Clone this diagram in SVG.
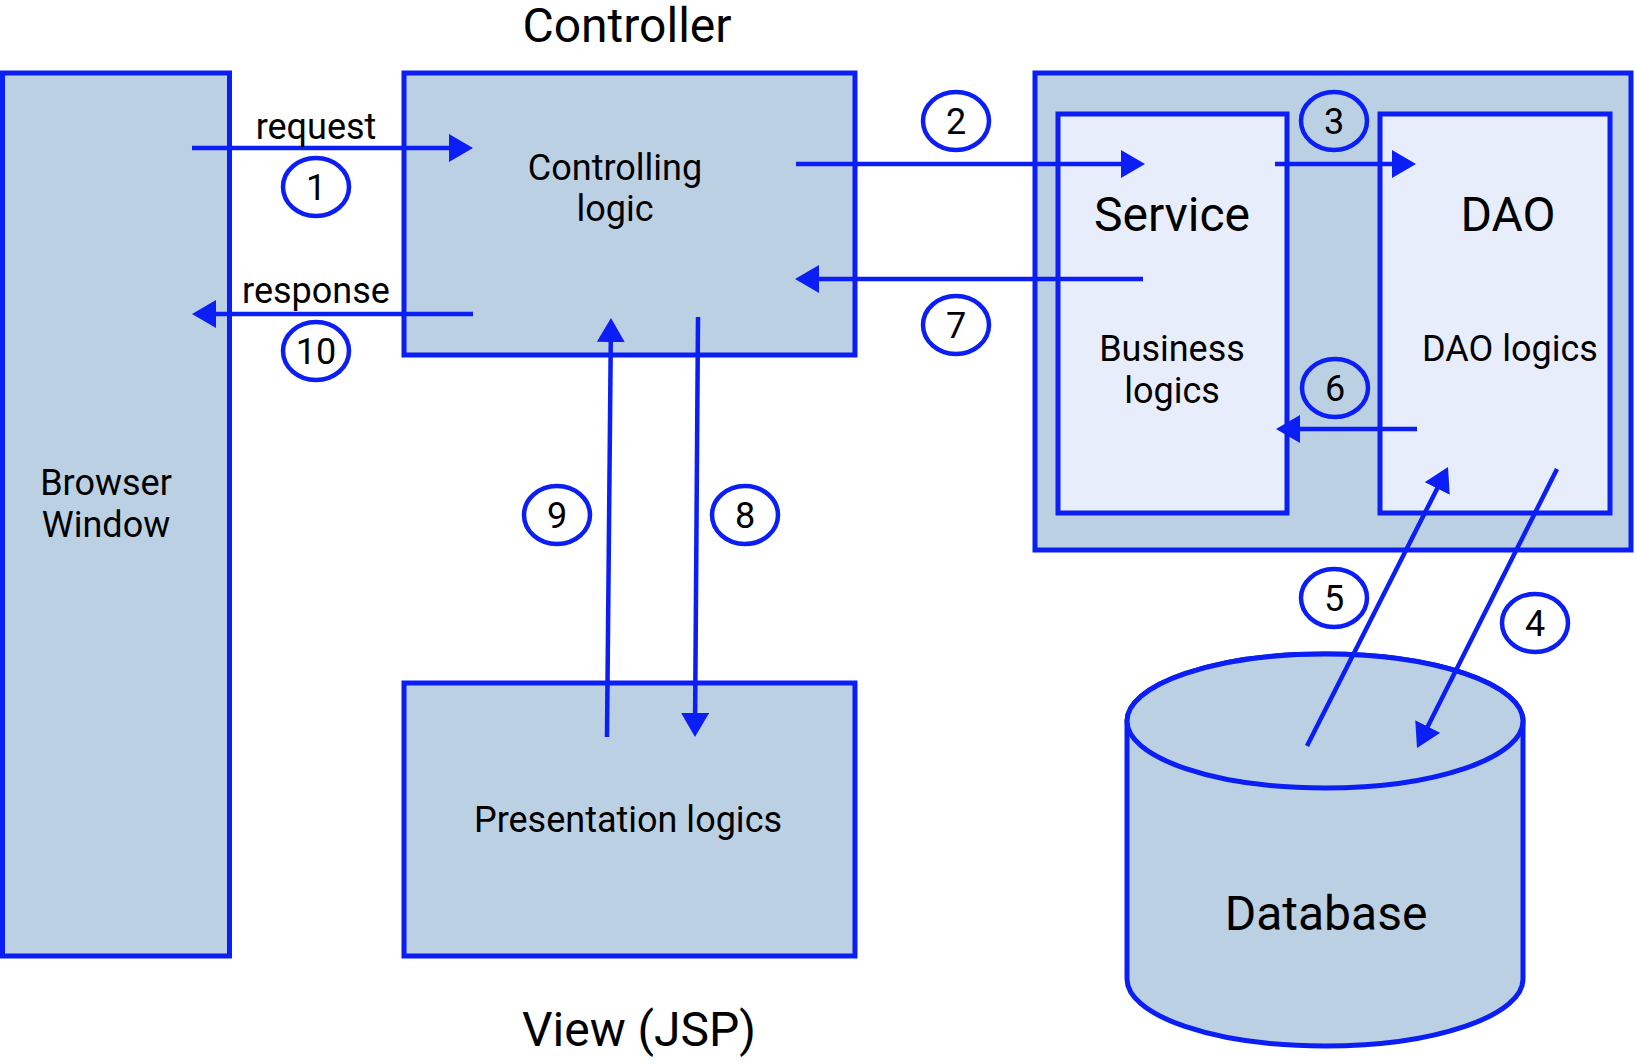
<svg xmlns="http://www.w3.org/2000/svg" width="1637" height="1064" viewBox="0 0 1637 1064">
<style>
.box{fill:#bcd0e4;stroke:#0a1ef5;stroke-width:5}
.inner{fill:#e8edfb;stroke:#0a1ef5;stroke-width:5}
.num{fill:none;stroke:#0a1ef5;stroke-width:4.5}
.con{stroke:#0a1ef5;stroke-width:4.5;fill:none;marker-end:url(#ah)}
text{font-family:Roboto,"Liberation Sans",sans-serif;fill:#000;text-anchor:middle}
.big{font-size:48px}
.mid{font-size:36px}
</style>
<defs>
<marker id="ah" viewBox="0 0 24 28" refX="4" refY="14" markerWidth="24" markerHeight="28" markerUnits="userSpaceOnUse" orient="auto">
<path d="M0,0 L24,14 L0,28 Z" fill="#0a1ef5"/>
</marker>
</defs>
<rect width="1637" height="1064" fill="#fff"/>
<g id="browser">
<rect class="box" x="2.5" y="73" width="227" height="883"/>
<text class="mid" x="106" y="495">Browser</text>
<text class="mid" x="106" y="537">Window</text>
</g>
<g id="controller">
<rect class="box" x="404" y="73" width="451" height="282"/>
<text class="big" x="627" y="42">Controller</text>
<text class="mid" x="615" y="180">Controlling</text>
<text class="mid" x="615" y="221">logic</text>
</g>
<g id="view">
<rect class="box" x="404" y="683" width="451" height="273"/>
<text class="mid" x="628" y="832">Presentation logics</text>
<text class="big" x="639" y="1046">View (JSP)</text>
</g>
<g id="model">
<rect class="box" x="1035" y="73" width="596" height="477"/>
</g>
<g id="service">
<rect class="inner" x="1058" y="114" width="229" height="399"/>
<text class="big" x="1172" y="231">Service</text>
<text class="mid" x="1172" y="361">Business</text>
<text class="mid" x="1172" y="403">logics</text>
</g>
<g id="dao">
<rect class="inner" x="1380" y="114" width="230" height="399"/>
<text class="big" x="1508" y="231">DAO</text>
<text class="mid" x="1510" y="361">DAO logics</text>
</g>
<g id="database">
<path class="box" d="M1127,721 L1127,979 A198,67 0 0 0 1523,979 L1523,721 A198,67 0 0 0 1127,721 Z"/>
<ellipse class="box" cx="1325" cy="721" rx="198" ry="67"/>
<text class="big" x="1326" y="930">Database</text>
</g>
<g id="connectors">
<line class="con" x1="192" y1="148" x2="453" y2="148"/>
<line class="con" x1="473" y1="314" x2="212" y2="314"/>
<line class="con" x1="796" y1="164" x2="1125" y2="164"/>
<line class="con" x1="1143" y1="279" x2="815" y2="279"/>
<line class="con" x1="1275" y1="164" x2="1396" y2="164"/>
<line class="con" x1="1417" y1="429" x2="1296" y2="429"/>
<line class="con" x1="607" y1="737" x2="610.8" y2="338"/>
<line class="con" x1="698" y1="317" x2="695.1" y2="717"/>
<line class="con" x1="1307" y1="746" x2="1439" y2="484.9"/>
<line class="con" x1="1557" y1="469" x2="1426" y2="730.1"/>
</g>
<g id="labels">
<text class="mid" x="316" y="139">request</text>
<text class="mid" x="316" y="303">response</text>
</g>
<g id="step-numbers">
<ellipse class="num" cx="316" cy="187" rx="33" ry="29"/><text class="mid" x="316" y="199.5">1</text>
<ellipse class="num" cx="956" cy="121" rx="33" ry="29"/><text class="mid" x="956" y="133.5">2</text>
<ellipse class="num" cx="1334" cy="121" rx="33" ry="29"/><text class="mid" x="1334" y="133.5">3</text>
<ellipse class="num" cx="1535" cy="623" rx="33" ry="29"/><text class="mid" x="1535" y="635.5">4</text>
<ellipse class="num" cx="1334" cy="598" rx="33" ry="29"/><text class="mid" x="1334" y="610.5">5</text>
<ellipse class="num" cx="1335" cy="388" rx="33" ry="29"/><text class="mid" x="1335" y="400.5">6</text>
<ellipse class="num" cx="956" cy="325" rx="33" ry="29"/><text class="mid" x="956" y="337.5">7</text>
<ellipse class="num" cx="745" cy="515" rx="33" ry="29"/><text class="mid" x="745" y="527.5">8</text>
<ellipse class="num" cx="557" cy="515" rx="33" ry="29"/><text class="mid" x="557" y="527.5">9</text>
<ellipse class="num" cx="316" cy="351" rx="33" ry="29"/><text class="mid" x="316" y="363.5">10</text>
</g>
</svg>
